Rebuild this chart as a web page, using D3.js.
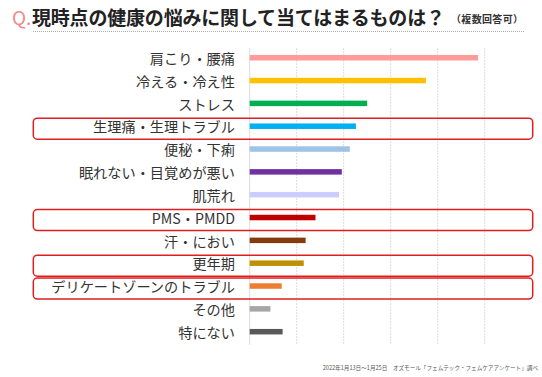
<html>
<head>
    <meta charset="utf-8">
    <script src="https://d3js.org/d3.v7.min.js"></script>
    <style>
        body { margin: 0; background: #fff; }
        text { font-family: "Noto Sans CJK JP", "Noto Sans", sans-serif; }
    </style>
</head>
<body>
    <svg id="chart"></svg>
    <script>
        var Categories = ["肩こり・腰痛", "冷える・冷え性", "ストレス", "生理痛・生理トラブル", "便秘・下痢",
            "眠れない・目覚めが悪い", "肌荒れ", "PMS・PMDD", "汗・におい", "更年期",
            "デリケートゾーンのトラブル", "その他", "特にない"];
        var Values = [48.6, 37.5, 25.0, 22.6, 21.3, 19.6, 19.0, 14.0, 11.9, 11.5, 6.8, 4.4, 7.0];
        var Colors = ["#ff9b9b", "#ffc000", "#00b050", "#00b0f0", "#9dc3e6", "#7030a0", "#ccccff",
            "#c00000", "#843c0c", "#bf9000", "#ed7d31", "#a6a6a6", "#595959"];
        var Highlighted = ["生理痛・生理トラブル", "PMS・PMDD", "更年期", "デリケートゾーンのトラブル"];
        var Ticks = [0, 10, 20, 30, 40, 50];
        var Title = "現時点の健康の悩みに関して当てはまるものは？";
        var Note = "（複数回答可）";
        var Source = "2022年1月13日～1月25日　オズモール「フェムテック・フェムケアアンケート」調べ";

        var W = 542, H = 377;
        var svg = d3.select("#chart").attr("width", W).attr("height", H);

        var x = d3.scaleLinear().domain([0, 50]).range([249.7, 484.7]);
        var y = d3.scaleBand().domain(Categories).range([46.3, 343.1]).padding(0);
        var bh = 5.5;

        // title
        svg.append("text").attr("x", 12).attr("y", 24.5)
            .attr("fill", "#f08a8a").attr("font-size", 19).text("Q.");
        svg.append("text").attr("x", 32).attr("y", 24.5)
            .attr("fill", "#222").attr("font-size", 19).attr("font-weight", "bold")
            .attr("textLength", 413).text(Title);
        svg.append("text").attr("x", 451).attr("y", 23)
            .attr("fill", "#333").attr("font-size", 10).attr("font-weight", "bold")
            .attr("textLength", 72).text(Note);

        svg.append("line")
            .attr("x1", 33).attr("x2", 525).attr("y1", 31.5).attr("y2", 31.5)
            .attr("stroke", "#999").attr("stroke-width", 0.8).attr("stroke-dasharray", "1,1");

        // grid
        svg.selectAll(".grid").data(Ticks).enter()
            .append("line").classed("grid", true)
            .attr("x1", function(d){ return x(d); }).attr("x2", function(d){ return x(d); })
            .attr("y1", 48).attr("y2", 345)
            .attr("stroke", "#dcdcdc").attr("stroke-width", 1)
            .attr("stroke-dasharray", function(d){ return d === 0 ? null : "2,1"; });

        // highlight boxes
        svg.selectAll(".hl").data(Highlighted).enter()
            .append("rect").classed("hl", true)
            .attr("x", 33.3).attr("width", 499.4)
            .attr("y", function(d){ return y(d) + y.bandwidth()/2 + 2.5 - 10.5; })
            .attr("height", 21)
            .attr("rx", 4).attr("ry", 4)
            .attr("fill", "none").attr("stroke", "#e01e1e").attr("stroke-width", 1.5);

        // bars
        svg.selectAll(".bar").data(Values).enter()
            .append("rect").classed("bar", true)
            .attr("x", x(0))
            .attr("y", function(d, i){ return y(Categories[i]) + y.bandwidth()/2 - bh/2; })
            .attr("width", function(d){ return x(d) - x(0); })
            .attr("height", bh)
            .attr("fill", function(d, i){ return Colors[i]; });

        // labels
        svg.selectAll(".lab").data(Categories).enter()
            .append("text").classed("lab", true)
            .attr("x", 235)
            .attr("y", function(d){ return y(d) + y.bandwidth()/2 + 6.2; })
            .attr("text-anchor", "end")
            .attr("font-size", 14.2)
            .attr("fill", "#333")
            .text(function(d){ return d; });

        // source
        svg.append("text")
            .attr("x", 538).attr("y", 370)
            .attr("text-anchor", "end")
            .attr("font-size", 5.6)
            .attr("fill", "#555")
            .text(Source);
    </script>
</body>
</html>
